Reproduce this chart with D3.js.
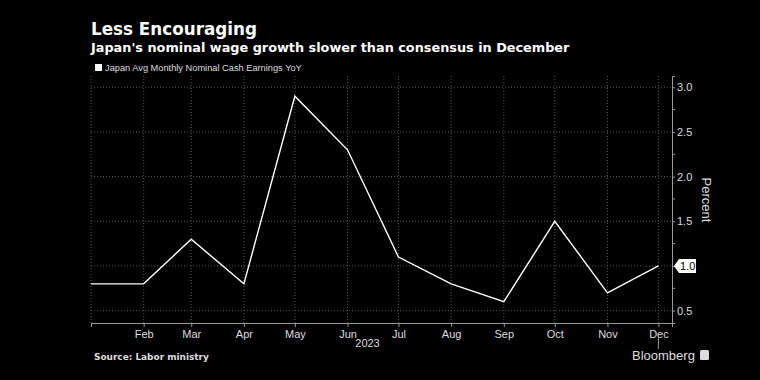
<!DOCTYPE html>
<html><head><meta charset="utf-8">
<script src="https://cdn.jsdelivr.net/npm/d3@7"></script>
<style>
html,body{margin:0;padding:0;background:#000;}
svg{display:block;}
text{font-family:"Liberation Sans",Arial,sans-serif;}
.hd{font-family:"DejaVu Sans",sans-serif;font-weight:bold;}
</style></head>
<body>
<script>
const months = ["2023-01","2023-02","2023-03","2023-04","2023-05","2023-06","2023-07","2023-08","2023-09","2023-10","2023-11","2023-12"];
const values = [0.8,0.8,1.3,0.8,2.9,2.3,1.1,0.8,0.6,1.5,0.7,1.0];
const monthLabels = ["Feb","Mar","Apr","May","Jun","Jul","Aug","Sep","Oct","Nov","Dec"];
const yTicks = [0.5,1.0,1.5,2.0,2.5,3.0];
const seriesName = "Japan Avg Monthly Nominal Cash Earnings YoY";

const W=760,H=380;
const m={left:91,right:88,top:76,bottom:57};
const parse=d3.timeParse("%Y-%m");
const dates=months.map(parse);
const data=dates.map((d,i)=>({d,v:values[i]}));

const svg=d3.select("body").append("svg").attr("width",W).attr("height",H);
svg.append("rect").attr("width",W).attr("height",H).attr("fill","#000");

const x=d3.scaleTime().domain([dates[0],d3.timeDay.offset(dates[11],8)]).range([m.left,W-m.right]);
const y=d3.scaleLinear().domain([0.362,3.126]).range([H-m.bottom,m.top]);

function fit(sel,target,size){
  sel.attr("font-size",size);
  const w=sel.node().getComputedTextLength();
  sel.attr("font-size",size*target/w);
}
// titles
fit(svg.append("text").attr("class","hd").attr("x",91).attr("y",35).attr("fill","#fff").text("Less Encouraging"),166,19);
fit(svg.append("text").attr("class","hd").attr("x",91).attr("y",52).attr("fill","#fff").text("Japan's nominal wage growth slower than consensus in December"),479,13);
svg.append("rect").attr("x",95).attr("y",64).attr("width",7).attr("height",7).attr("fill","#fff");
fit(svg.append("text").attr("x",105).attr("y",71).attr("fill","#ddd").text(seriesName),197,9.5);

// grid
const g=svg.append("g");
g.selectAll(".hg").data(yTicks).join("line")
 .attr("x1",m.left).attr("x2",W-m.right).attr("y1",d=>y(d)).attr("y2",d=>y(d))
 .attr("stroke","#555").attr("stroke-dasharray","1,2");
g.selectAll(".vg").data(dates).join("line")
 .attr("x1",d=>x(d)).attr("x2",d=>x(d)).attr("y1",m.top).attr("y2",H-m.bottom)
 .attr("stroke","#555").attr("stroke-dasharray","1,2");

// right axis
const ya=svg.append("g").attr("transform",`translate(${W-m.right},0)`)
 .call(d3.axisRight(y).tickValues(yTicks).tickFormat(d3.format(".1f")).tickSize(3).tickPadding(2));
ya.select(".domain").attr("stroke","#999");
ya.selectAll(".tick line").attr("stroke","#999");
ya.selectAll(".tick text").attr("fill","#ddd").attr("font-size",11).filter(d=>d===1.0).remove();
const minor=d3.range(0.5,3.01,0.25).filter(v=>!yTicks.includes(v));
ya.selectAll(".mt").data(minor).join("line").attr("x1",0).attr("x2",3).attr("y1",d=>y(d)).attr("y2",d=>y(d)).attr("stroke","#999");

// bottom axis
const xa=svg.append("g").attr("transform",`translate(0,${H-m.bottom})`)
 .call(d3.axisBottom(x).tickValues(dates).tickFormat((d,i)=>i===0?"":monthLabels[i-1]).tickSize(4).tickPadding(3));
xa.select(".domain").attr("stroke","#999");
xa.selectAll(".tick line").attr("stroke","#999");
xa.selectAll(".tick text").attr("fill","#ddd").attr("font-size",11);
svg.append("text").attr("x",x(parse("2023-06"))+20).attr("y",H-m.bottom+24).attr("text-anchor","middle").attr("fill","#ddd").attr("font-size",11).text("2023");
svg.append("line").attr("x1",x(dates[11])).attr("x2",x(dates[11])).attr("y1",H-m.bottom+14).attr("y2",H-m.bottom+26).attr("stroke","#999");

// line
svg.append("path").datum(data).attr("fill","none").attr("stroke","#fff").attr("stroke-width",1.4)
 .attr("d",d3.line().x(d=>x(d.d)).y(d=>y(d.v)));

// last value label
const last=data[data.length-1];
const ly=y(last.v), lx=W-m.right+2;
svg.append("path").attr("d",`M${lx},${ly} L${lx+5},${ly-7} L${lx+22},${ly-7} L${lx+22},${ly+7} L${lx+5},${ly+7} Z`).attr("fill","#fff");
svg.append("text").attr("x",lx+6).attr("y",ly+4).attr("fill","#000").attr("font-size",11).text(d3.format(".1f")(last.v));

// y title
svg.append("text").attr("transform",`translate(702,200) rotate(90)`).attr("text-anchor","middle").attr("fill","#ddd").attr("font-size",13).text("Percent");

// footer
fit(svg.append("text").attr("class","hd").attr("x",94).attr("y",360).attr("fill","#ddd").text("Source: Labor ministry"),115,9);
svg.append("text").attr("x",632).attr("y",360).attr("fill","#ddd").attr("font-size",13).text("Bloomberg");
svg.append("rect").attr("x",700).attr("y",350).attr("width",9).attr("height",10).attr("rx",1.5).attr("fill","#ddd");
</script>
</body></html>
